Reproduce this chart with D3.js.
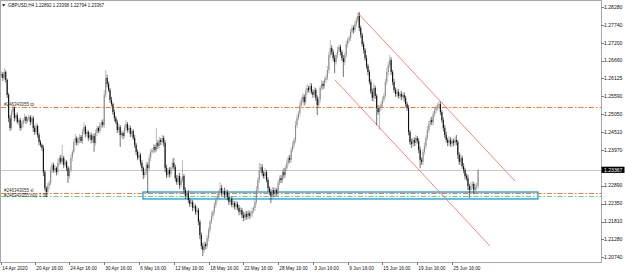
<!DOCTYPE html>
<html><head><meta charset="utf-8">
<script src="https://cdn.jsdelivr.net/npm/d3@7"></script>
<style>html,body{margin:0;padding:0;background:#fff;overflow:hidden}svg{display:block}</style>
</head><body>
<svg id="c" width="625" height="272"></svg>
<script>
// ---- data (GBPUSD H4, 14 Apr 2020 20:00 .. 30 Jun 2020 16:00) ----
const firstOpen = 1.2620;
const closes = [
1.2626,1.2614,1.2632,1.2608,1.2563,1.2493,1.2463,1.2511,1.2523,1.2493,
1.2502,1.2481,1.2487,1.2463,1.2475,1.2487,1.2496,1.2484,1.2490,1.2496,
1.2481,1.2493,1.2463,1.2451,1.2469,1.2442,1.2421,1.2412,1.2403,1.2330,
1.2282,1.2270,1.2288,1.2297,1.2336,1.2352,1.2336,1.2342,1.2330,1.2358,
1.2373,1.2361,1.2373,1.2352,1.2361,1.2342,1.2318,1.2336,1.2373,1.2391,
1.2421,1.2433,1.2418,1.2427,1.2436,1.2424,1.2451,1.2466,1.2445,1.2451,
1.2433,1.2442,1.2427,1.2439,1.2418,1.2448,1.2463,1.2454,1.2472,1.2481,
1.2472,1.2563,1.2614,1.2596,1.2578,1.2548,1.2535,1.2511,1.2493,1.2481,
1.2457,1.2466,1.2442,1.2448,1.2439,1.2463,1.2475,1.2457,1.2463,1.2445,
1.2454,1.2433,1.2412,1.2391,1.2373,1.2382,1.2358,1.2342,1.2321,1.2330,
1.2352,1.2342,1.2373,1.2391,1.2397,1.2406,1.2397,1.2418,1.2409,1.2427,
1.2421,1.2433,1.2418,1.2342,1.2321,1.2336,1.2324,1.2342,1.2358,1.2345,
1.2312,1.2300,1.2318,1.2291,1.2306,1.2318,1.2276,1.2258,1.2267,1.2246,
1.2234,1.2240,1.2222,1.2228,1.2210,1.2216,1.2180,1.2140,1.2107,1.2095,
1.2113,1.2107,1.2131,1.2155,1.2180,1.2198,1.2210,1.2231,1.2246,1.2258,
1.2270,1.2282,1.2267,1.2273,1.2261,1.2270,1.2255,1.2240,1.2249,1.2231,
1.2237,1.2225,1.2234,1.2222,1.2210,1.2216,1.2201,1.2192,1.2204,1.2195,
1.2207,1.2198,1.2204,1.2213,1.2222,1.2240,1.2276,1.2306,1.2336,1.2345,
1.2327,1.2318,1.2330,1.2306,1.2282,1.2270,1.2258,1.2276,1.2264,1.2276,
1.2267,1.2297,1.2312,1.2306,1.2330,1.2321,1.2342,1.2358,1.2373,1.2367,
1.2397,1.2412,1.2427,1.2472,1.2493,1.2508,1.2532,1.2548,1.2557,1.2541,
1.2572,1.2584,1.2578,1.2590,1.2572,1.2563,1.2578,1.2554,1.2532,1.2548,
1.2584,1.2596,1.2590,1.2608,1.2614,1.2638,1.2683,1.2704,1.2692,1.2674,
1.2662,1.2683,1.2698,1.2707,1.2692,1.2674,1.2662,1.2683,1.2716,1.2728,
1.2734,1.2753,1.2765,1.2759,1.2777,1.2789,1.2801,1.2765,1.2744,1.2716,
1.2698,1.2674,1.2650,1.2632,1.2602,1.2572,1.2554,1.2584,1.2560,1.2523,
1.2511,1.2523,1.2535,1.2548,1.2560,1.2602,1.2632,1.2653,1.2668,1.2632,
1.2602,1.2578,1.2566,1.2572,1.2560,1.2566,1.2557,1.2563,1.2554,1.2535,
1.2523,1.2451,1.2421,1.2415,1.2427,1.2418,1.2433,1.2424,1.2397,1.2367,
1.2361,1.2391,1.2409,1.2433,1.2457,1.2475,1.2487,1.2481,1.2505,1.2517,
1.2523,1.2529,1.2535,1.2511,1.2487,1.2463,1.2442,1.2427,1.2418,1.2427,
1.2415,1.2424,1.2418,1.2427,1.2421,1.2382,1.2361,1.2373,1.2348,1.2336,
1.2318,1.2312,1.2288,1.2276,1.2288,1.2294,1.2276,1.2285,1.22892,1.23367];
// wick lengths above / below the body, in pips
const upperWick = [
8,6,12,5,4,6,9,7,10,5, 6,8,5,7,9,6,10,4,7,8, 5,9,6,8,10,5,7,6,4,8,
6,5,9,7,10,8,6,9,5,12, 7,9,39,6,8,5,7,9,10,6, 8,12,5,7,9,6,10,15,6,8,
5,9,7,6,8,10,7,5,9,6, 8,14,24,10,7,6,9,5,8,6, 7,10,6,8,5,9,12,6,10,7,
8,5,9,6,7,10,6,8,5,9, 10,7,12,8,6,9,7,45,8,10, 6,9,7,8,10,6,9,5,12,15,
7,9,6,10,8,49,6,8,5,9, 7,10,6,8,5,9,6,7,8,10, 9,6,10,8,7,12,6,9,8,10,
7,18,9,6,10,8,7,12,6,9, 8,6,10,7,9,8,6,10,7,9, 6,8,7,10,6,9,12,8,22,10,
9,7,12,6,8,5,9,10,7,8, 6,10,8,9,7,12,8,10,6,9, 8,10,7,12,9,6,10,8,12,7,
9,12,6,10,8,7,9,6,8,10, 7,12,9,8,10,12,9,24,8,7, 9,6,10,8,7,6,9,8,10,7,
9,8,10,7,9,8,9,12,7,6, 8,6,9,7,6,8,10,14,7,6, 9,8,7,10,8,9,12,10,15,8,
6,9,7,10,8,6,9,7,8,6, 7,9,6,10,8,7,9,6,8,10, 7,9,10,8,12,9,7,10,8,9,
10,8,9,7,6,8,9,10,7,12, 8,9,7,10,15,6,8,12,7,9, 6,8,10,7,12,9,6,10,8,3];
const lowerWick = [
6,9,5,8,10,12,9,6,8,10, 7,5,9,8,6,10,7,9,5,8, 10,6,12,9,7,8,10,6,9,12,
8,15,7,10,6,9,8,7,10,6, 9,7,8,10,6,9,21,8,7,10, 6,9,8,7,10,6,9,8,10,7,
9,6,10,8,27,7,9,6,8,10, 7,9,8,10,6,9,7,8,10,6, 9,8,36,7,10,6,9,8,7,10,
8,6,9,10,7,8,9,10,12,8, 9,75,8,10,7,9,8,6,10,7, 9,8,10,12,9,7,10,8,9,7,
10,8,9,12,7,8,10,9,8,10, 9,8,10,7,9,8,10,12,9,18, 8,10,7,9,8,6,10,8,9,7,
8,9,10,7,9,8,10,9,8,7, 10,8,9,7,10,8,9,10,8,9, 7,9,8,10,6,9,8,7,9,8,
10,8,9,7,10,9,21,8,10,9, 8,10,7,9,8,10,7,9,8,10, 8,7,10,9,8,7,10,8,9,10,
7,9,8,10,7,9,8,10,30,8, 9,7,10,8,9,7,10,8,9,10, 33,8,9,7,10,8,45,9,8,10,
7,9,8,10,7,9,8,10,9,8, 10,8,9,10,8,7,10,12,9,51, 8,54,9,10,8,7,9,10,8,9,
10,8,9,10,8,9,10,8,12,9, 8,10,9,12,8,10,9,8,10,25, 9,10,8,9,7,10,8,9,10,8,
9,8,10,9,8,10,9,8,10,9, 8,10,9,8,10,12,9,10,8,9, 10,8,12,24,10,9,12,8,10,10];
const pip = 0.0001;

const priceTicks = [1.28280,1.27740,1.27200,1.26660,1.26125,1.25590,1.25050,1.24510,1.23970,1.22890,1.22350,1.21810,1.21280,1.20740];
const timeLabels = ["14 Apr 2020","20 Apr 16:00","24 Apr 16:00","30 Apr 16:00","6 May 16:00","12 May 16:00","18 May 16:00","22 May 16:00","28 May 16:00","3 Jun 16:00","9 Jun 16:00","15 Jun 16:00","19 Jun 16:00","25 Jun 16:00"];
const timeLabelIndex = [0,23,47,71,95,119,143,167,191,215,239,263,287,311];

const levelLabels = ["#246343055 tp","#246343055 sl","#246343055 buy 1.00"];
const levelPrices = [1.2525,1.2266,1.2257];
const levelKinds = ["stop","stop","entry"];

const channelUpper = [[246,1.2810],[354.5,1.2303]];
const channelLower = [[230.2,1.2608],[337.2,1.2107]];
const zoneIndex = [97.7,370.3];
const zonePrices = [1.2270,1.2249];
const headerText = "GBPUSD,H4  1.22892 1.23398 1.22794 1.23367";

// ---- build candles ----
const candles = closes.map((c,i)=>{
  const o = i===0 ? firstOpen : closes[i-1];
  return {i, o, c, h: Math.max(o,c)+upperWick[i]*pip, l: Math.min(o,c)-lowerWick[i]*pip};
});

const plotR=601.5, plotB=262.5;
const x = d3.scaleLinear().domain([0,329]).range([1.37, 1.37+1.449*329]);
const y = d3.scaleLinear().domain([1.20740,1.28280]).range([257,7]);
const py = p => Math.round(y(p))+0.5;

const svg = d3.select("#c");
const font = "'Liberation Sans', Arial, sans-serif";

svg.append("rect").attr("x",0.5).attr("y",0.5).attr("width",plotR-0.5).attr("height",plotB-0.5)
  .attr("fill","#fff").attr("stroke","#a8a8a8").attr("stroke-width",1);

const plot = svg.append("g");
plot.append("rect")
  .attr("x",x(zoneIndex[0])).attr("y",y(zonePrices[0]))
  .attr("width",x(zoneIndex[1])-x(zoneIndex[0])).attr("height",y(zonePrices[1])-y(zonePrices[0]))
  .attr("fill","#f2fafe").attr("stroke","#1a9ad8").attr("stroke-width",1.3);

const bid = closes[closes.length-1];
plot.append("line").attr("x1",1).attr("x2",plotR).attr("y1",py(bid)).attr("y2",py(bid))
  .attr("stroke","#c8c8c8").attr("stroke-width",1);

levelPrices.forEach((p,k)=>{
  plot.append("line").attr("x1",1).attr("x2",plotR).attr("y1",py(p)).attr("y2",py(p))
    .attr("stroke", levelKinds[k]==="entry" ? "#78cd78" : "#ff7832")
    .attr("stroke-width",1.1).attr("stroke-dasharray","5,2,1.5,2");
});

[channelUpper, channelLower].forEach(ch=>{
  plot.append("line").attr("x1",x(ch[0][0])).attr("y1",y(ch[0][1]))
    .attr("x2",x(ch[1][0])).attr("y2",y(ch[1][1]))
    .attr("stroke","#f07878").attr("stroke-width",0.9);
});

const cg = plot.append("g");
const bullCol="#8e8e8e", bearCol="#111";
cg.selectAll("line.w").data(candles).join("line").attr("class","w")
  .attr("x1",d=>x(d.i)).attr("x2",d=>x(d.i))
  .attr("y1",d=>y(d.h)).attr("y2",d=>y(d.l))
  .attr("stroke",d=>d.c>=d.o?bullCol:bearCol).attr("stroke-width",0.6);
cg.selectAll("rect.b").data(candles).join("rect").attr("class","b")
  .attr("x",d=>x(d.i)-0.55).attr("width",1.1)
  .attr("y",d=>y(Math.max(d.o,d.c)))
  .attr("height",d=>Math.max(0.6, y(Math.min(d.o,d.c))-y(Math.max(d.o,d.c))))
  .attr("fill",d=>d.c>=d.o?bullCol:bearCol);

levelPrices.forEach((p,k)=>{
  plot.append("text").attr("x",4).attr("y",y(p)-1.2 + (k===2?1.8:0))
    .attr("font-family",font).attr("font-size",4.5).attr("fill","#333").text(levelLabels[k]);
});

const ra = svg.append("g");
priceTicks.forEach(p=>{
  ra.append("line").attr("x1",plotR).attr("x2",plotR+2.5).attr("y1",py(p)).attr("y2",py(p))
    .attr("stroke","#555").attr("stroke-width",0.8);
  ra.append("text").attr("x",604).attr("y",y(p)).attr("dy","0.35em")
    .attr("font-family",font).attr("font-size",5.1).attr("fill","#111").text(p.toFixed(5));
});
ra.append("rect").attr("x",plotR).attr("y",y(bid)-3.2).attr("width",23).attr("height",6.2).attr("fill","#000");
ra.append("text").attr("x",604).attr("y",y(bid)).attr("dy","0.35em")
  .attr("font-family",font).attr("font-size",5.1).attr("fill","#fff").text(bid.toFixed(5));

const ba = svg.append("g");
timeLabelIndex.forEach((ix,k)=>{
  const xx = Math.round(x(ix))+0.5;
  ba.append("line").attr("x1",xx).attr("x2",xx).attr("y1",plotB).attr("y2",plotB+2.5).attr("stroke","#555").attr("stroke-width",0.8);
  ba.append("text").attr("x",xx+0.8).attr("y",270)
    .attr("font-family",font).attr("font-size",4.7).attr("fill","#111").text(timeLabels[k]);
});

svg.append("path").attr("d","M2,4.2 L5.4,4.2 L3.7,6.4 Z").attr("fill","#111");
svg.append("text").attr("x",8).attr("y",7.3).attr("font-family",font).attr("font-size",4.5).attr("fill","#111").text(headerText);
</script>
</body></html>
